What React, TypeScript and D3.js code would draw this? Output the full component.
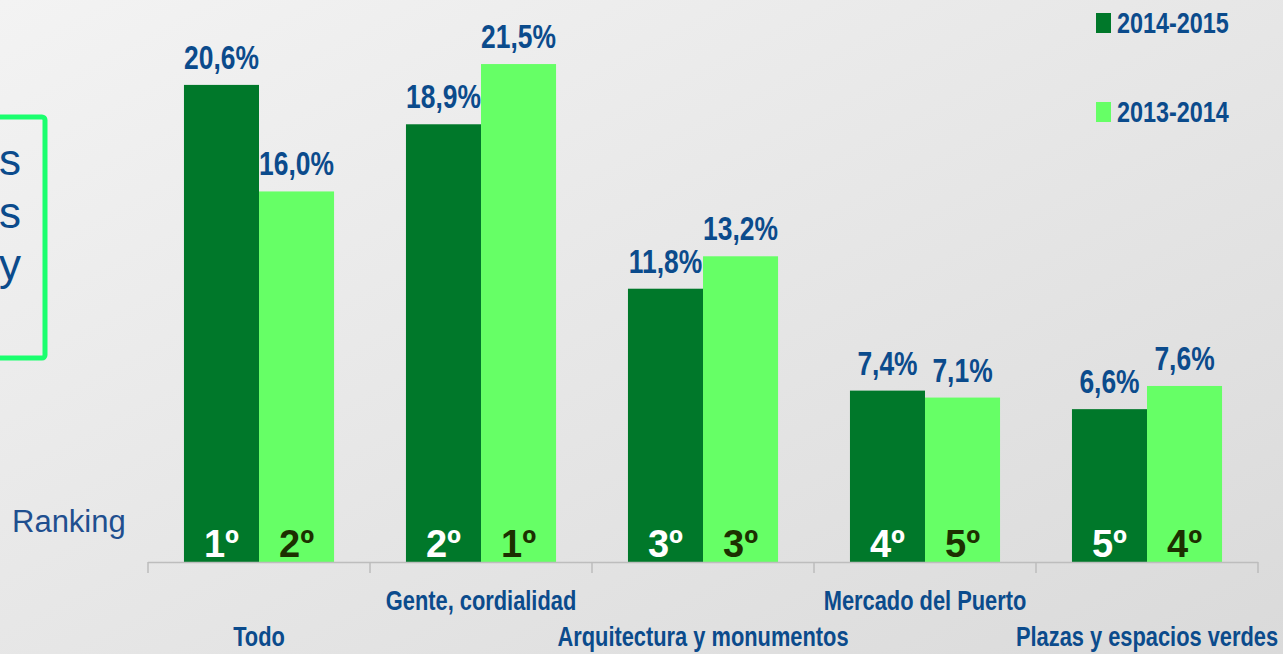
import React from "react";
import * as d3 from "d3";

const categories = ["Todo", "Gente, cordialidad", "Arquitectura y monumentos", "Mercado del Puerto", "Plazas y espacios verdes"];
const seriesNames = ["2014-2015", "2013-2014"];
const values2014_2015 = [20.6, 18.9, 11.8, 7.4, 6.6];
const values2013_2014 = [16.0, 21.5, 13.2, 7.1, 7.6];
const rank2014_2015 = ["1º", "2º", "3º", "4º", "5º"];
const rank2013_2014 = ["2º", "1º", "3º", "5º", "4º"];
const leftBoxFragments = ["s", "s", "y"];

const W = 1283;
const H = 654;
const DARK = "#00782a";
const LIGHT = "#66ff66";
const BLUE = "#0b4b8c";
const SANS = "'Liberation Sans', Arial, sans-serif";

const fmt = (v: number) => v.toFixed(1).replace(".", ",") + "%";

function NText({ x, y, anchor = "middle", size, sx = 0.8, fill = BLUE, children }: any) {
  return (
    <text
      transform={`translate(${x},${y}) scale(${sx},1)`}
      textAnchor={anchor}
      fontFamily={SANS}
      fontWeight="bold"
      fontSize={size}
      fill={fill}
    >
      {children}
    </text>
  );
}

export default function App() {
  const x0 = d3.scaleBand<string>().domain(categories).range([148, 1258]).paddingInner(0).paddingOuter(0);
  const bw = x0.bandwidth();
  const x1 = d3.scaleBand<string>().domain(seriesNames).range([bw * 0.162, bw * 0.838]).padding(0);
  const y = d3.scaleLinear().domain([0, 24]).range([562, 562 - 24 * 23.16]);
  const series = [
    { name: seriesNames[0], values: values2014_2015, ranks: rank2014_2015, fill: DARK, rankColor: "#ffffff" },
    { name: seriesNames[1], values: values2013_2014, ranks: rank2013_2014, fill: LIGHT, rankColor: "#1c3000" },
  ];
  const ticks = [...categories.map((c) => x0(c) as number), 1258];

  return (
    <svg width={W} height={H} style={{ position: "absolute", left: 0, top: 0, display: "block" }}>
      <defs>
        <linearGradient id="bg" x1="0" y1="0" x2="1" y2="1">
          <stop offset="0" stopColor="#f3f3f3" />
          <stop offset="1" stopColor="#dadada" />
        </linearGradient>
      </defs>
      <rect x={0} y={0} width={W} height={H} fill="url(#bg)" />

      {/* left box */}
      <rect x={-20} y={117} width={65} height={241} rx={3} fill="none" stroke="#1aff6e" strokeWidth={5} />
      {leftBoxFragments.map((t, i) => (
        <text key={i} x={21} y={175 + i * 52.5} textAnchor="end" fontFamily={SANS} fontSize={44} fill={BLUE}>
          {t}
        </text>
      ))}

      {/* legend */}
      {seriesNames.map((s, i) => (
        <g key={s} transform={`translate(1096, ${13 + i * 89})`}>
          <rect x={0} y={0} width={15} height={20} fill={i === 0 ? DARK : LIGHT} />
          <NText x={21} y={20} anchor="start" size={30} sx={0.78}>
            {s}
          </NText>
        </g>
      ))}

      {/* bars */}
      {series.map((s) =>
        categories.map((c, i) => {
          const bx = (x0(c) as number) + (x1(s.name) as number);
          const bwid = x1.bandwidth();
          const top = y(s.values[i]);
          return (
            <g key={s.name + c}>
              <rect x={bx} y={top} width={bwid} height={y(0) - top} fill={s.fill} />
              <NText x={bx + bwid / 2} y={top - 16} size={33} sx={0.8}>
                {fmt(s.values[i])}
              </NText>
              <text x={bx + bwid / 2} y={557} textAnchor="middle" fontFamily={SANS} fontWeight="bold" fontSize={38} fill={s.rankColor}>
                {s.ranks[i]}
              </text>
            </g>
          );
        })
      )}

      {/* axis */}
      <line x1={148} x2={1258} y1={562.5} y2={562.5} stroke="#bdbdbd" strokeWidth={1.5} />
      {ticks.map((t, i) => (
        <line key={i} x1={t} x2={t} y1={562} y2={573} stroke="#bdbdbd" strokeWidth={1.5} />
      ))}
      {categories.map((c, i) => (
        <NText key={c} x={(x0(c) as number) + bw / 2} y={i % 2 === 0 ? 646 : 610} size={28} sx={0.78}>
          {c}
        </NText>
      ))}

      <text x={12} y={532} fontFamily={SANS} fontSize={31} fill="#1f4f8f">
        Ranking
      </text>
    </svg>
  );
}
